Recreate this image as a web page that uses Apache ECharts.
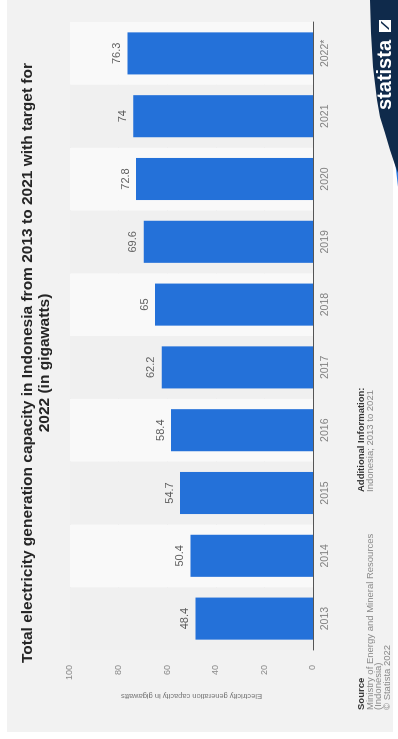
<!DOCTYPE html>
<html>
<head>
<meta charset="utf-8">
<script src="https://cdn.jsdelivr.net/npm/echarts@6/dist/echarts.min.js"></script>
<style>
  html, body { margin: 0; padding: 0; background: #ffffff; width: 398px; height: 739px; overflow: hidden; }
  #wrap { position: absolute; left: 0; top: 0; width: 739px; height: 398px; background: #ffffff;
          transform-origin: 0 0; transform: translate(0px, 739px) rotate(-90deg); }
  #bg { position: absolute; left: 7px; top: 7px; width: 732px; height: 386px; background: #f2f2f2; }
  #chart { position: absolute; left: 0; top: 0; width: 739px; height: 398px; }
</style>
</head>
<body>
<div id="wrap"><div id="bg"></div><div id="chart"></div></div>
<script>
const categories = ['2013', '2014', '2015', '2016', '2017', '2018', '2019', '2020', '2021', '2022*'];
const capacityGW = [48.4, 50.4, 54.7, 58.4, 62.2, 65, 69.6, 72.8, 74, 76.3];
const valueTicks = [0, 20, 40, 60, 80, 100];
const titleText = 'Total electricity generation capacity in Indonesia from 2013 to 2021 with target for\n2022 (in gigawatts)';
const yAxisName = 'Electricity generation capacity in gigawatts';
const sourceLines = ['Ministry of Energy and Mineral Resources', '(Indonesia)', '\u00A9 Statista 2022'];
const additionalLines = ['Indonesia; 2013 to 2021'];

const FONT = '"Liberation Sans", Arial, Helvetica, sans-serif';
const chart = echarts.init(document.getElementById('chart'), null, { renderer: 'canvas' });

const option = {
  backgroundColor: 'transparent',
  animation: false,
  title: {
    text: titleText,
    left: 376,
    textAlign: 'center',
    top: 19.5,
    padding: 0,
    textStyle: { fontFamily: FONT, fontSize: 15.5, fontWeight: 'bold', color: '#262626', lineHeight: 17 }
  },
  grid: { left: 89, right: 22, top: 70, bottom: 85, containLabel: false },
  xAxis: {
    type: 'category',
    data: categories,
    axisLine: { show: true, lineStyle: { color: '#555555', width: 1 } },
    axisTick: { show: false },
    axisLabel: { fontFamily: FONT, fontSize: 10.5, color: '#808080', margin: 7 },
    splitArea: { show: true, areaStyle: { color: ['#f0f0f0', '#f9f9f9'] } }
  },
  yAxis: {
    type: 'value',
    min: valueTicks[0],
    max: valueTicks[valueTicks.length - 1],
    interval: 20,
    name: yAxisName,
    nameLocation: 'middle',
    nameGap: 42,
    nameTextStyle: { fontFamily: FONT, fontSize: 7.5, color: '#777777' },
    axisLine: { show: false },
    axisTick: { show: false },
    axisLabel: { fontFamily: FONT, fontSize: 9, color: '#8a8a8a', margin: 15 },
    splitLine: { show: true, lineStyle: { color: '#e2e2e2', width: 1 } }
  },
  series: [{
    type: 'bar',
    data: capacityGW,
    barWidth: '67%',
    itemStyle: { color: '#2471d9' },
    label: {
      show: true,
      position: 'top',
      distance: 5,
      fontFamily: FONT,
      fontSize: 11,
      color: '#606060'
    }
  }],
  graphic: [
    { type: 'text', left: 29, top: 356, style: { text: 'Source', font: 'bold 9.5px ' + FONT, fill: '#333333' } },
    { type: 'text', left: 29, top: 365, style: { text: sourceLines.join('\n'), font: '9.5px ' + FONT, fill: '#8a8a8a', lineHeight: 8.5 } },
    { type: 'text', left: 247, top: 356, style: { text: 'Additional Information:', font: 'bold 9.5px ' + FONT, fill: '#333333' } },
    { type: 'text', left: 247, top: 365, style: { text: additionalLines.join('\n'), font: '9.5px ' + FONT, fill: '#8a8a8a', lineHeight: 8.5 } },
    { type: 'polygon', shape: { points: [[670, 374], [640, 378], [615, 384], [595, 390], [578, 395], [552, 398], [739, 398]] }, style: { fill: '#2f7be0' } },
    { type: 'polygon', shape: { points: [[739, 370], [706, 371], [672, 373], [639, 377], [622, 380], [606, 385], [589, 390], [574, 395], [566, 398], [739, 398]] }, style: { fill: '#0f2a4b' } },
    { type: 'text', x: 629, y: 385, style: { text: 'statista', font: 'bold 20px ' + FONT, fill: '#ffffff', verticalAlign: 'middle' } },
    { type: 'rect', shape: { x: 707, y: 379, width: 12, height: 12 }, style: { fill: '#ffffff' } },
    { type: 'polygon', shape: { points: [[709, 389], [716, 381], [718, 381], [711, 389]] }, style: { fill: '#0f2a4b' } }
  ]
};
chart.setOption(option);
</script>
</body>
</html>
